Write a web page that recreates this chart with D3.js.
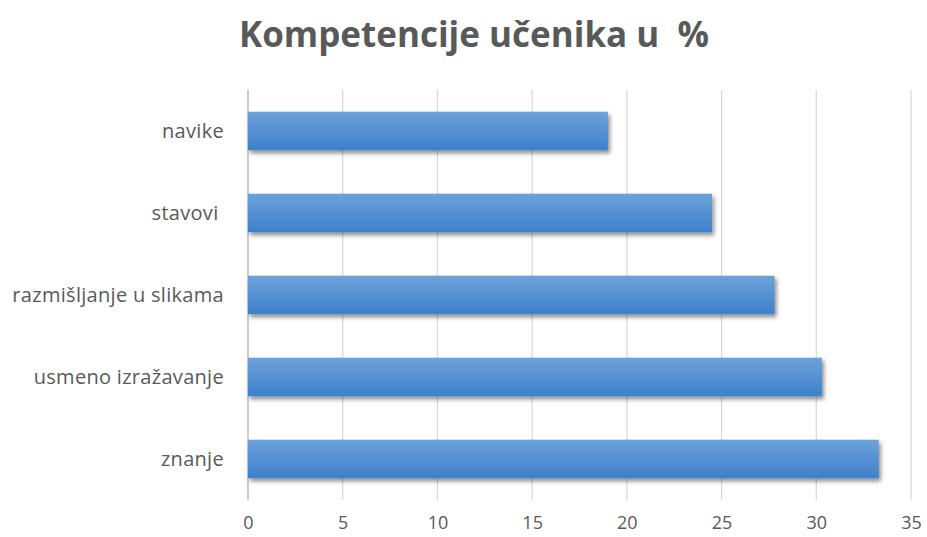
<!DOCTYPE html>
<html>
<head>
<meta charset="utf-8">
<script src="https://cdn.jsdelivr.net/npm/d3@7"></script>
<style>
  body { margin: 0; background: #fff; }
  svg text { font-family: "Open Sans", "Liberation Sans", sans-serif; white-space: pre; }
</style>
</head>
<body>
<div id="chart"></div>
<script>
// data
const categories = ["navike", "stavovi ", "razmišljanje u slikama", "usmeno izražavanje", "znanje"];
const values = [19, 24.5, 27.8, 30.3, 33.3];
const xTicks = [0, 5, 10, 15, 20, 25, 30, 35];
const title = "Kompetencije učenika u  %";

const W = 927, H = 537;
const margin = { top: 90, right: 14, bottom: 37, left: 248 };
const width = W - margin.left - margin.right,
  height = H - margin.top - margin.bottom;

const svg = d3.select("#chart").append("svg")
  .attr("width", W).attr("height", H);

const defs = svg.append("defs");
const grad = defs.append("linearGradient")
  .attr("id", "barGrad").attr("x1", 0).attr("y1", 0).attr("x2", 0).attr("y2", 1);
grad.append("stop").attr("offset", "0%").attr("stop-color", "#6da2da");
grad.append("stop").attr("offset", "100%").attr("stop-color", "#3d80cb");

const shadow = defs.append("filter").attr("id", "shadow")
  .attr("x", "-5%").attr("y", "-20%").attr("width", "115%").attr("height", "160%");
shadow.append("feDropShadow")
  .attr("dx", 2).attr("dy", 3).attr("stdDeviation", 2.2)
  .attr("flood-color", "#000").attr("flood-opacity", 0.45);

// title
svg.append("text")
  .attr("x", 474).attr("y", 47)
  .attr("text-anchor", "middle")
  .attr("font-size", 35).attr("font-weight", "bold")
  .attr("fill", "#595959")
  .text(title);

const g = svg.append("g").attr("transform", `translate(${margin.left},${margin.top})`);

const x = d3.scaleLinear().domain([0, 35]).range([0, width - 2]);
const y = d3.scaleBand().domain(categories).range([0, height]).paddingInner(0.53).paddingOuter(0.265);

// gridlines
g.selectAll(".grid")
  .data(xTicks)
  .join("line")
  .attr("class", "grid")
  .attr("x1", d => x(d)).attr("x2", d => x(d))
  .attr("y1", 0).attr("y2", height)
  .attr("stroke", "#d9d9d9").attr("stroke-width", 1.3);

// left axis line
g.append("line")
  .attr("x1", 0).attr("x2", 0).attr("y1", 0).attr("y2", height)
  .attr("stroke", "#bfbfbf").attr("stroke-width", 1.3);

// bars
g.selectAll(".bar")
  .data(values)
  .join("rect")
  .attr("class", "bar")
  .attr("x", 0)
  .attr("y", (d, i) => y(categories[i]))
  .attr("width", d => x(d))
  .attr("height", y.bandwidth())
  .attr("fill", "url(#barGrad)")
  .attr("filter", "url(#shadow)");

// category labels
g.selectAll(".cat")
  .data(categories)
  .join("text")
  .attr("class", "cat")
  .attr("x", -24)
  .attr("y", d => y(d) + y.bandwidth() / 2)
  .attr("dy", "0.35em")
  .attr("text-anchor", "end")
  .attr("font-size", 20)
  .attr("letter-spacing", 0.3)
  .attr("fill", "#595959")
  .text(d => d);

// x axis labels
const xAxis = g.append("g")
  .attr("transform", `translate(0,${height})`)
  .call(d3.axisBottom(x).tickValues(xTicks).tickSize(0).tickPadding(16));
xAxis.select(".domain").remove();
xAxis.selectAll("text")
  .attr("font-size", 18)
  .attr("fill", "#595959")
  .attr("font-family", "\"Open Sans\", sans-serif");
</script>
</body>
</html>
